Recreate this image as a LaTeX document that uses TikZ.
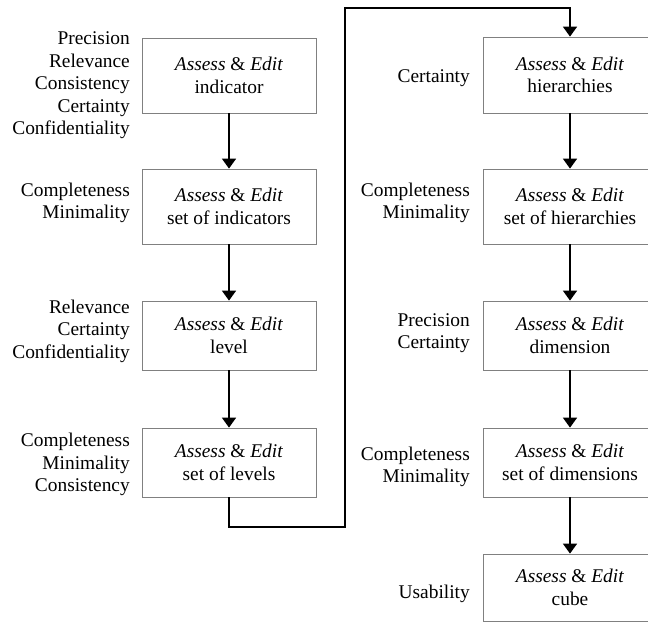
\documentclass[tikz,border=0pt]{standalone}
\usepackage{fontspec}
\setmainfont{Liberation Serif}
\usetikzlibrary{arrows.meta}
\begin{document}
\begin{tikzpicture}[x=1pt,y=-1pt,
  every node/.style={font=\fontsize{19.4}{22.5}\selectfont},
  stepbox/.style={draw=black!50, line width=0.8pt, minimum width=174pt, inner sep=0pt, align=center},
  lbl/.style={anchor=east, align=right, inner sep=0pt},
  flow/.style={line width=1.7pt, -{Triangle[width=14pt,length=10pt]}}]
\useasboundingbox (0,0) rectangle (648,624);
\clip (0,0) rectangle (648,624);
\fill[white] (0,0) rectangle (648,624);
% left column
\node[stepbox, minimum height=75pt] (b1) at (229,75.5) {\textit{Assess} \& \textit{Edit}\\indicator};
\node[stepbox, minimum height=75pt] (b2) at (229,206.5) {\textit{Assess} \& \textit{Edit}\\set of indicators};
\node[stepbox, minimum height=69pt] (b3) at (229,335.5) {\textit{Assess} \& \textit{Edit}\\level};
\node[stepbox, minimum height=69pt] (b4) at (229,462.5) {\textit{Assess} \& \textit{Edit}\\set of levels};
% right column
\node[stepbox, minimum height=76pt] (r1) at (570,75) {\textit{Assess} \& \textit{Edit}\\hierarchies};
\node[stepbox, minimum height=75pt] (r2) at (570,206.5) {\textit{Assess} \& \textit{Edit}\\set of hierarchies};
\node[stepbox, minimum height=69pt] (r3) at (570,335.5) {\textit{Assess} \& \textit{Edit}\\dimension};
\node[stepbox, minimum height=69pt] (r4) at (570,462.5) {\textit{Assess} \& \textit{Edit}\\set of dimensions};
\node[stepbox, minimum height=67pt] (r5) at (570,587.5) {\textit{Assess} \& \textit{Edit}\\cube};
% labels
\node[lbl] (l1) at (130,85.5) {Precision\\Relevance\\Consistency\\Certainty\\Confidentiality};
\node[lbl] (l2) at (130,203) {Completeness\\Minimality};
\node[lbl] (l3) at (130,331) {Relevance\\Certainty\\Confidentiality};
\node[lbl] (l4) at (130,464.5) {Completeness\\Minimality\\Consistency};
\node[lbl] (m1) at (470,77.7) {Certainty};
\node[lbl] (m2) at (470,203) {Completeness\\Minimality};
\node[lbl] (m3) at (470,333) {Precision\\Certainty};
\node[lbl] (m4) at (470,467) {Completeness\\Minimality};
\node[lbl] (m5) at (470,593.7) {Usability};
% arrows
\draw[flow] (b1) -- (b2);
\draw[flow] (b2) -- (b3);
\draw[flow] (b3) -- (b4);
\coordinate (c1) at (229,527);
\coordinate (c2) at (345,527);
\coordinate (c3) at (345,8);
\coordinate (c4) at (r1.north |- 0,8);
\draw[flow] (b4.south) -- (c1) -- (c2) -- (c3) -- (c4) -- (r1.north);
\draw[flow] (r1) -- (r2);
\draw[flow] (r2) -- (r3);
\draw[flow] (r3) -- (r4);
\draw[flow] (r4) -- (r5);
\end{tikzpicture}
\end{document}
